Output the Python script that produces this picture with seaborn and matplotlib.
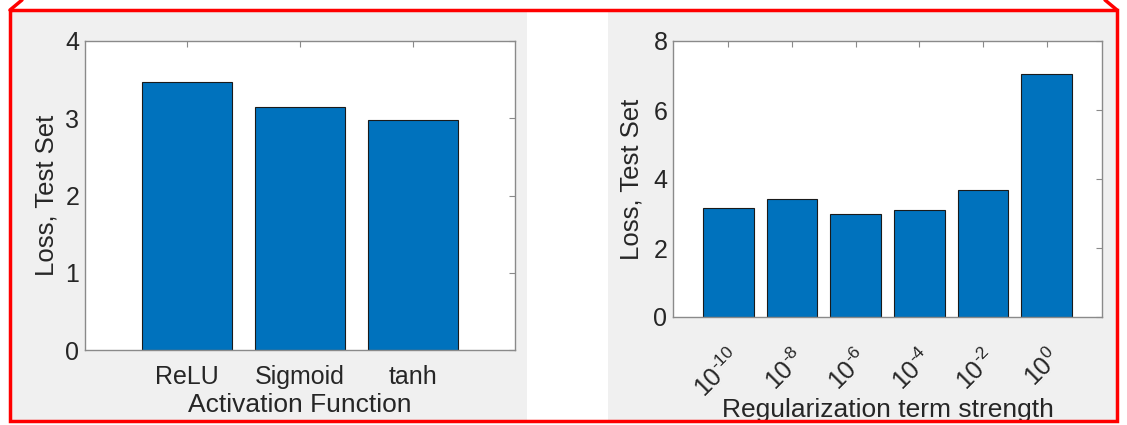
import matplotlib
matplotlib.use("Agg")
from matplotlib import pyplot as plt
from matplotlib.patches import Rectangle
from matplotlib.lines import Line2D
import seaborn as sns

# data
activations = ["ReLU", "Sigmoid", "tanh"]
activation_loss = [3.47, 3.14, 2.98]

reg_strengths = [r"$10^{\text{-}10}$", r"$10^{\text{-}8}$", r"$10^{\text{-}6}$",
                 r"$10^{\text{-}4}$", r"$10^{\text{-}2}$", r"$10^{0}$"]
reg_loss = [3.16, 3.41, 2.98, 3.11, 3.69, 7.03]

BAR = "#0072BD"
TEXT = "#262626"
PANEL = "#F0F0F0"

sns.set_style("white")
plt.rcParams["font.family"] = ["Liberation Sans", "DejaVu Sans"]
plt.rcParams["mathtext.fontset"] = "custom"
plt.rcParams["mathtext.rm"] = "Liberation Sans"
plt.rcParams["mathtext.it"] = "Liberation Sans"
plt.rcParams["mathtext.default"] = "regular"

W, H = 1127, 425
fig = plt.figure(figsize=(W / 100, H / 100), dpi=100)
fig.patch.set_facecolor("white")


def px(x0, y0, x1, y1):
    # pixel box (top-left origin) -> figure fraction rect
    return [x0 / W, 1 - y1 / H, (x1 - x0) / W, (y1 - y0) / H]


# grey MATLAB-like figure panels
for x0, x1 in [(10, 527), (608, 1117)]:
    r = px(x0, 10, x1, 421)
    fig.patches.append(Rectangle((r[0], r[1]), r[2], r[3], transform=fig.transFigure,
                                 facecolor=PANEL, edgecolor="none", zorder=-5))


def style_axes(ax):
    ax.set_zorder(2)
    ax.set_facecolor("white")
    for s in ax.spines.values():
        s.set_visible(True)
        s.set_color("#8a8a8a")
        s.set_linewidth(1.0)
    ax.tick_params(direction="in", length=4, width=0.8, color="#8a8a8a",
                   top=True, right=True, labelsize=18, labelcolor=TEXT)
    ax.tick_params(axis="y", pad=4)


# left: activation function
ax1 = fig.add_axes(px(85, 41, 515, 350))
sns.barplot(x=activations, y=activation_loss, color=BAR, saturation=1, width=0.8,
            edgecolor="#1a1a1a", linewidth=0.8, ax=ax1)
ax1.set_xlim(-0.9, 2.9)
ax1.set_ylim(0, 4)
ax1.set_yticks([0, 1, 2, 3, 4])
style_axes(ax1)
ax1.tick_params(axis="x", pad=11)
ax1.set_xlabel("Activation Function", fontsize=19, color=TEXT, labelpad=3)
ax1.set_ylabel("Loss, Test Set", fontsize=18.5, color=TEXT, labelpad=5)

# right: regularization strength
ax2 = fig.add_axes(px(673, 41, 1102, 317))
sns.barplot(x=reg_strengths, y=reg_loss, color=BAR, saturation=1, width=0.8,
            edgecolor="#1a1a1a", linewidth=0.8, ax=ax2)
ax2.set_xlim(-0.87, 5.87)
ax2.set_ylim(0, 8)
ax2.set_yticks([0, 2, 4, 6, 8])
style_axes(ax2)
ax2.tick_params(axis="x", pad=20)
for lab in ax2.get_xticklabels():
    lab.set_rotation(45)
    lab.set_ha("right")
    lab.set_va("top")
    lab.set_rotation_mode("anchor")
ax2.set_xlabel("Regularization term strength", fontsize=19, color=TEXT)
ax2.xaxis.label.set_va("baseline")
ax2.xaxis.set_label_coords(0.5, (317 - 417) / 276)
ax2.set_ylabel("Loss, Test Set", fontsize=18.5, color=TEXT, labelpad=7)

# red callout frame
red = "#FF0000"
x_l, x_r, y_t, y_b = 10 / W, 1117 / W, 1 - 10 / H, 1 - 421 / H
frame = [([x_l, x_r, x_r, x_l, x_l], [y_t, y_t, y_b, y_b, y_t]),
         ([x_l, 22 / W], [y_t, 1.0]),
         ([x_r, 1105 / W], [y_t, 1.0])]
for xs, ys in frame:
    fig.lines.append(Line2D(xs, ys, transform=fig.transFigure, color=red, linewidth=2.5,
                            solid_joinstyle="miter", zorder=10))

fig.savefig("out.png", dpi=100)
